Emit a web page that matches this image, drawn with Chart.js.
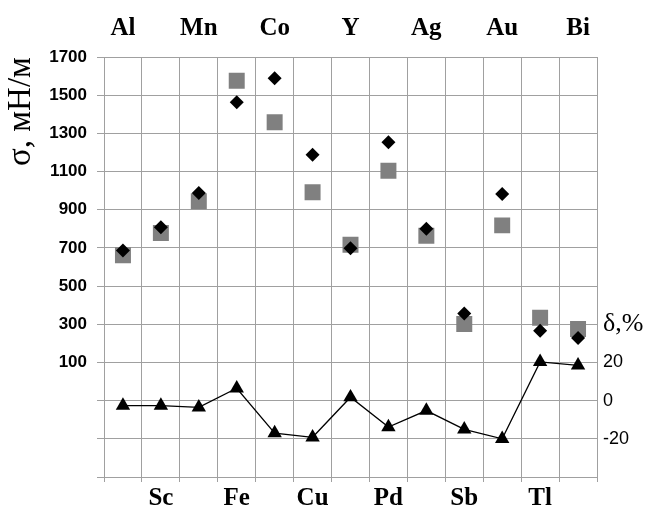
<!DOCTYPE html>
<html>
<head>
<meta charset="utf-8">
<script src="https://cdn.jsdelivr.net/npm/chart.js@4/dist/chart.umd.min.js"></script>
<style>
  html, body { margin: 0; padding: 0; background: #fff; }
  #wrap { width: 649px; height: 510px; }
</style>
</head>
<body>
<div id="wrap"><canvas id="c" width="649" height="510"></canvas></div>
<script>
// Categories (elements)
const elements = ['Al','Sc','Mn','Fe','Co','Cu','Y','Pd','Ag','Sb','Au','Tl','Bi'];
// Surface tension σ, mN/m — black diamonds
const sigmaDiamond = [686, 808, 987, 1463, 1589, 1188, 698, 1254, 801, 356, 982, 266, 228];
// Surface tension σ, mN/m — grey squares
const sigmaSquare = [661, 778, 944, 1575, 1358, 991, 717, 1104, 764, 302, 818, 334, 275];
// Deviation δ, % — triangles with line
const deltaPct = [-2.6, -2.6, -3.5, 6.5, -17, -19.2, 1.8, -13.8, -5.2, -15, -20, 20.3, 18.5];
// Tick labels
const leftTicksShown = [100, 300, 500, 700, 900, 1100, 1300, 1500, 1700];
const rightTicksShown = [-20, 0, 20];
const rightAxisLabel = 'δ,%';
const leftAxisTitle = 'σ, мН/м';

const serifBold = { family: "'Liberation Serif', 'Times New Roman', serif", size: 25, weight: 'bold', lineHeight: 1.2 };
const gridColor = '#a0a0a0';

new Chart(document.getElementById('c'), {
  type: 'line',
  data: {
    labels: elements,
    datasets: [
      {
        label: 'σ (diamond)',
        data: sigmaDiamond,
        yAxisID: 'y',
        showLine: false,
        pointStyle: 'rectRot',
        pointRadius: 7,
        pointBackgroundColor: '#000',
        pointBorderColor: '#000',
        pointBorderWidth: 0,
        order: 1
      },
      {
        label: 'σ (square)',
        data: sigmaSquare,
        yAxisID: 'y',
        showLine: false,
        pointStyle: 'rect',
        pointRadius: 11.3,
        pointBackgroundColor: '#808080',
        pointBorderColor: '#808080',
        pointBorderWidth: 0,
        order: 2
      },
      {
        label: 'δ',
        data: deltaPct,
        yAxisID: 'y2',
        showLine: true,
        borderColor: '#000',
        borderWidth: 1.3,
        tension: 0,
        pointStyle: 'triangle',
        pointRadius: 8.3,
        pointBackgroundColor: '#000',
        pointBorderColor: '#000',
        pointBorderWidth: 0,
        order: 0
      }
    ]
  },
  options: {
    responsive: false,
    animation: false,
    layout: { padding: 0 },
    plugins: { legend: { display: false }, tooltip: { enabled: false } },
    scales: {
      x: {
        type: 'category',
        position: 'bottom',
        offset: true,
        grid: { display: true, offset: true, color: gridColor, lineWidth: 1, drawTicks: true, tickLength: 5 },
        border: { display: true, color: gridColor },
        ticks: {
          autoSkip: false, maxRotation: 0, padding: 2,
          color: '#000', font: serifBold,
          callback: function(v, i) { return i % 2 === 1 ? elements[i] : ''; }
        },
        afterFit: s => { s.height = 33; }
      },
      x2: {
        type: 'category',
        position: 'top',
        offset: true,
        grid: { display: false, drawTicks: false },
        border: { display: false },
        ticks: {
          autoSkip: false, maxRotation: 0, padding: 13,
          color: '#000', font: serifBold,
          callback: function(v, i) { return i % 2 === 0 ? elements[i] : ''; }
        },
        afterFit: s => { s.height = 57; }
      },
      y: {
        position: 'left',
        min: -500, max: 1700,
        grid: { color: gridColor, lineWidth: 1, drawTicks: true, tickLength: 7 },
        border: { display: true, color: gridColor },
        ticks: {
          stepSize: 200, autoSkip: false, padding: 10, color: '#000',
          font: { family: "'Liberation Sans', Arial, sans-serif", size: 17, weight: 'bold' },
          callback: v => leftTicksShown.includes(v) ? String(v) : ''
        },
        title: {
          display: true, text: leftAxisTitle, align: 'end', color: '#000',
          font: { family: "'Liberation Serif', 'Times New Roman', serif", size: 33, lineHeight: 1.2 },
          padding: { top: 2, bottom: 0 }
        },
        afterFit: s => { s.width = 104; }
      },
      y2: {
        position: 'right',
        min: -40, max: 180,
        grid: { display: false, drawTicks: false },
        border: { display: false },
        ticks: {
          stepSize: 20, autoSkip: false, padding: 6, color: '#000', crossAlign: 'near',
          font: ctx => (ctx.tick && ctx.tick.value === 40)
            ? { family: "'Liberation Serif', 'Times New Roman', serif", size: 26 }
            : { family: "'Liberation Sans', Arial, sans-serif", size: 18 },
          callback: v => v === 40 ? rightAxisLabel : (rightTicksShown.includes(v) ? String(v) : '')
        },
        afterFit: s => { s.width = 52; }
      }
    }
  }
});
</script>
</body>
</html>
